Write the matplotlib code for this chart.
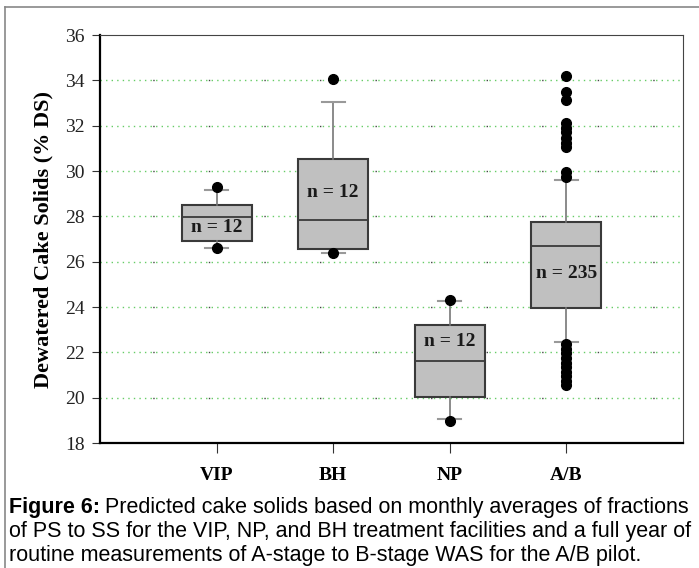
import matplotlib.pyplot as plt
from matplotlib.lines import Line2D

# box statistics (% DS)
sites = ["VIP", "BH", "NP", "A/B"]
counts = [12, 12, 12, 235]
q1 = [26.9, 26.55, 20.03, 23.96]
med = [27.97, 27.82, 21.6, 26.67]
q3 = [28.5, 30.52, 23.2, 27.75]
wlo = [26.6, 26.4, 19.05, 22.47]
whi = [29.17, 33.06, 24.25, 29.62]
out_vip = [29.31, 26.62]
out_bh = [34.05, 26.37]
out_np = [24.3, 18.97]
out_ab = [34.2, 33.5, 33.15, 32.1, 31.9, 31.7, 31.45, 31.25, 31.05, 29.95, 29.75,
          22.35, 22.15, 21.95, 21.75, 21.55, 21.35, 21.15, 20.95, 20.75, 20.55]
label_y = [27.5, 29.07, 22.47, 25.46]

W, H = 699, 568
fig = plt.figure(figsize=(W / 100, H / 100), dpi=100)

ax = fig.add_axes([100 / W, (H - 443) / H, 583 / W, 408 / H])

outs = [out_vip, out_bh, out_np, out_ab]
stats = []
for i in range(len(sites)):
    stats.append(dict(q1=q1[i], med=med[i], q3=q3[i], whislo=wlo[i], whishi=whi[i],
                      fliers=outs[i], label=sites[i]))

pos = [1, 2, 3, 4]
ax.bxp(stats, positions=pos, widths=0.6, capwidths=0.2, patch_artist=True,
       boxprops=dict(facecolor="#c0c0c0", edgecolor="#3a3a3a", linewidth=1.5),
       medianprops=dict(color="#3a3a3a", linewidth=1.3),
       whiskerprops=dict(color="#777777", linewidth=1.2),
       capprops=dict(color="#999999", linewidth=1.5),
       flierprops=dict(marker="o", markerfacecolor="black", markeredgecolor="black",
                       markersize=7, linestyle="none"),
       zorder=3)

for i in range(len(sites)):
    ax.text(pos[i], label_y[i], "n = %d" % counts[i], ha="center", va="center",
            fontsize=14, fontweight="bold", family="Liberation Serif", color="#1a1a1a",
            zorder=5)

# dotted grid
for g in range(20, 36, 2):
    ax.axhline(g, color="#66cc66", linestyle=(0, (1, 3)), linewidth=1, zorder=1)
    ax.axhline(g, color="#444444", linestyle=(2, (1, 39)), linewidth=1, zorder=1)

ax.set_xlim(0, 5)
ax.set_ylim(18, 36)
ax.set_yticks(range(18, 37, 2))
ax.set_xticks(pos)
ax.set_xticklabels(sites, fontsize=14, fontweight="bold", family="Liberation Serif")
ax.tick_params(axis="x", direction="out", length=7, pad=10, color="#333333")
ax.tick_params(axis="y", direction="out", length=6, pad=5, color="#333333",
               labelsize=14)
for t in ax.get_yticklabels():
    t.set_family("Liberation Serif")
    t.set_color("#222222")

ax.set_ylabel("Dewatered Cake Solids (% DS)", fontsize=16, fontweight="bold",
              family="Liberation Serif", labelpad=8)

ax.spines["left"].set_linewidth(1.6)
ax.spines["bottom"].set_linewidth(1.6)
ax.spines["top"].set_color("#444444")
ax.spines["right"].set_color("#444444")

# outer frame (top and left sides only are visible)
fig.add_artist(Line2D([5 / W, 1], [(H - 7) / H] * 2, color="#888888", lw=1.2))
fig.add_artist(Line2D([5 / W] * 2, [0, (H - 7) / H], color="#888888", lw=1.2))

cap_font = "Liberation Sans"
cap_size = 15.5
x0 = 9 / W
bold = fig.text(x0, (H - 507) / H, "Figure 6:", fontsize=cap_size, fontweight="bold",
                family=cap_font, va="center")
r = fig.canvas.get_renderer()
bb = bold.get_window_extent(renderer=r)
fig.text((bb.x1 + 5) / W, (H - 507) / H,
         "Predicted cake solids based on monthly averages of fractions",
         fontsize=cap_size, family=cap_font, va="center")
fig.text(x0, (H - 531) / H,
         "of PS to SS for the VIP, NP, and BH treatment facilities and a full year of",
         fontsize=cap_size, family=cap_font, va="center")
fig.text(x0, (H - 555) / H,
         "routine measurements of A-stage to B-stage WAS for the A/B pilot.",
         fontsize=cap_size, family=cap_font, va="center")

fig.savefig("out.png", dpi=100)
